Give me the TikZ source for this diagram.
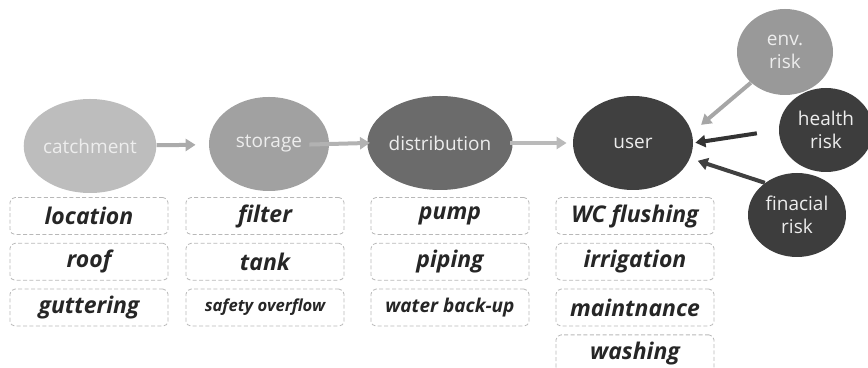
\documentclass[tikz,border=0pt]{standalone}
\usepackage{fontspec}
\setmainfont{Open Sans}
\usetikzlibrary{shapes.geometric,arrows.meta,positioning}
\definecolor{catchgray}{gray}{0.74}
\definecolor{storegray}{gray}{0.63}
\definecolor{distgray}{gray}{0.42}
\definecolor{usergray}{gray}{0.25}
\definecolor{envgray}{gray}{0.60}
\definecolor{riskgray}{gray}{0.24}
\definecolor{boxgray}{gray}{0.72}
\newcommand\itemfont{\fontsize{11.5}{13}\selectfont\bfseries\itshape}
\tikzset{stage/.style={ellipse, fill=#1, inner sep=0pt, text=white!93!black,
           minimum width=60pt, minimum height=47pt,
           font=\fontsize{9.5}{11.5}\selectfont, align=center},
         item/.style={draw=boxgray, dashed, dash pattern=on 2pt off 1.2pt,
           rounded corners=2.5pt, minimum width=79pt, minimum height=18.5pt,
           inner sep=1pt, text=black!85, font=\itemfont},
         flow/.style={-{Triangle[length=5pt,width=6pt]}, line width=2pt, draw=#1}}

\begin{document}
\begin{tikzpicture}[x=0.5pt,y=-0.5pt,node distance=4pt]
  \useasboundingbox (0,0) rectangle (868,368);
  % the four stages
  \node[stage=catchgray] (catchment) at (90,146) {catchment};
  \node[stage=storegray] (storage) at (269,144) {storage};
  \node[stage=distgray,minimum width=71pt] (distribution) at (440,143) {distribution};
  \node[stage=usergray] (user) at (633,143) {user};
  % risks acting on the user
  \node[stage=envgray,minimum width=48pt,minimum height=43pt] (env) at (785,52) {env.\\risk};
  \node[stage=riskgray,minimum width=47pt,minimum height=42pt] (health) at (826,130) {health\\risk};
  \node[stage=riskgray,minimum width=49pt,minimum height=42pt] (finacial) at (797,215) {finacial\\risk};

  \draw[flow=black!33,shorten >=6.5pt] (catchment) -- (storage);
  \draw[flow=black!30,shorten <=-10pt,shorten >=-1.5pt] (storage.east) -- (distribution.west);
  \draw[flow=black!27,shorten <=-1.5pt,shorten >=3pt] (distribution.east) -- (user.west);
  \draw[flow=black!35,shorten >=6pt] (env.222) -- (user.10);
  \draw[flow=black!80,shorten <=11pt,shorten >=1pt] (health.west) -- (user.east);
  \draw[flow=black!75,shorten >=4pt] (finacial.135) -- (user.-15);

  % what each stage is made of
  \node[item] (location) at (89,216) {location};
  \node[item,below=of location] (roof) {roof};
  \node[item,below=of roof] (guttering) {guttering};
  \node[item] (filter) at (265,216) {filter};
  \node[item,below=of filter] (tank) {tank};
  \node[item,below=of tank,font=\fontsize{8.3}{10}\selectfont\bfseries\itshape] (overflow) {safety overflow};
  \node[item] (pump) at (450,216) {pump};
  \node[item,below=of pump] (piping) {piping};
  \node[item,below=of piping,font=\fontsize{9.5}{11}\selectfont\bfseries\itshape] (backup) {water back-up};
  \node[item] (flushing) at (635,216) {WC flushing};
  \node[item,below=of flushing] (irrigation) {irrigation};
  \node[item,below=of irrigation] (maintnance) {maintnance};
  \node[item,below=of maintnance] (washing) {washing};
\end{tikzpicture}
\end{document}
